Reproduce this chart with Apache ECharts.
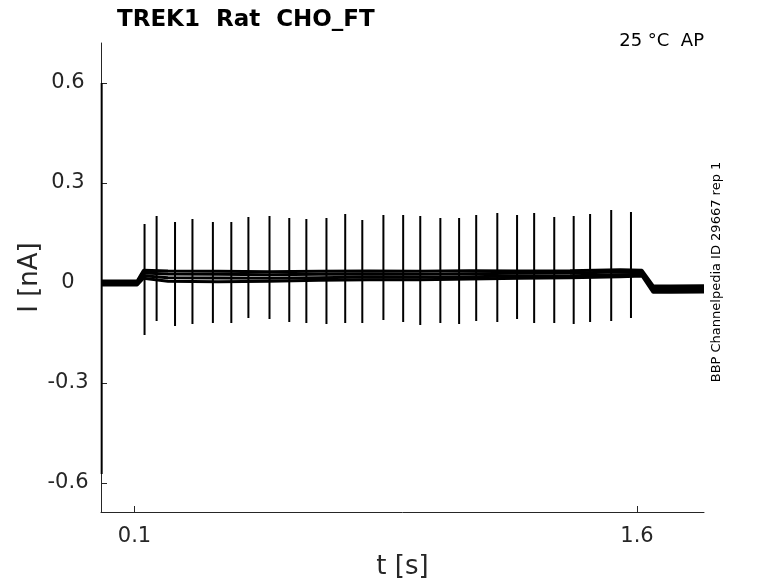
<!DOCTYPE html>
<html>
<head>
<meta charset="utf-8">
<script src="https://cdn.jsdelivr.net/npm/echarts@6/dist/echarts.min.js"></script>
<style>
html,body{margin:0;padding:0;background:#fff;}
#chartmain{width:778px;height:583px;}
</style>
</head>
<body>
<div id="chartmain"></div>
<script>
// 刺激时间点 (s) 和尖峰幅值 (nA)
var spikeT = [0.130, 0.166, 0.221, 0.273, 0.334, 0.389, 0.440, 0.503, 0.562, 0.613, 0.673, 0.729, 0.780, 0.843,
    0.902, 0.953, 1.013, 1.069, 1.120, 1.183, 1.242, 1.293, 1.353, 1.411, 1.460, 1.523, 1.582];
var spikeTop = [0.177, 0.201, 0.183, 0.192, 0.183, 0.183, 0.198, 0.201, 0.195, 0.192, 0.195, 0.207, 0.189, 0.204,
    0.204, 0.201, 0.195, 0.195, 0.204, 0.210, 0.204, 0.210, 0.198, 0.201, 0.207, 0.219, 0.213];
var spikeBottom = [-0.156, -0.114, -0.129, -0.123, -0.120, -0.120, -0.105, -0.108, -0.117, -0.120, -0.123, -0.120, -0.120, -0.111,
    -0.117, -0.126, -0.120, -0.123, -0.114, -0.117, -0.108, -0.120, -0.120, -0.123, -0.117, -0.114, -0.105];

// 四次扫描的基线
var traceT = [0, 0.108, 0.127, 0.2, 0.35, 0.5, 0.65, 0.8, 0.95, 1.1, 1.25, 1.4, 1.55, 1.615, 1.648, 1.7, 1.8];
var sweep1 = [0.006, 0.006, 0.038, 0.036, 0.035, 0.034, 0.035, 0.036, 0.035, 0.037, 0.036, 0.037, 0.040, 0.038, -0.008, -0.009, -0.008];
var sweep2 = [0.002, 0.002, 0.030, 0.027, 0.026, 0.025, 0.026, 0.027, 0.026, 0.028, 0.029, 0.030, 0.033, 0.032, -0.015, -0.016, -0.015];
var sweep3 = [-0.002, -0.002, 0.022, 0.016, 0.015, 0.014, 0.016, 0.018, 0.017, 0.019, 0.021, 0.022, 0.025, 0.026, -0.021, -0.022, -0.021];
var sweep4 = [-0.006, -0.006, 0.014, 0.005, 0.004, 0.005, 0.008, 0.010, 0.010, 0.012, 0.014, 0.016, 0.019, 0.021, -0.028, -0.028, -0.027];

// 起始电容瞬变
var transientT = [0.002, 0.002];
var transientI = [0.600, -0.573];

var xTicks = [0.1, 1.6];
var yTicks = [-0.6, -0.3, 0, 0.3, 0.6];

var font = 'DejaVu Sans';
var ink = '#262626';

function pairs(t, v) {
    var out = [];
    for (var i = 0; i < t.length; i++) {
        out.push([t[i], v[i]]);
    }
    return out;
}

var spikeData = [];
for (var i = 0; i < spikeT.length; i++) {
    spikeData.push([spikeT[i], spikeTop[i]]);
    spikeData.push([spikeT[i], spikeBottom[i]]);
    spikeData.push([spikeT[i], null]);
}

function trace(name, data, width) {
    return {
        name: name,
        type: 'line',
        data: data,
        showSymbol: false,
        symbol: 'none',
        connectNulls: false,
        animation: false,
        lineStyle: { color: '#000', width: width },
        z: 3
    };
}

var option = {
    animation: false,
    title: {
        text: 'TREK1  Rat  CHO_FT',
        left: 112,
        top: 4,
        textStyle: { fontFamily: font, fontSize: 23, fontWeight: 'bold', color: '#000' }
    },
    grid: { left: 101, right: 74, top: 43, bottom: 71, outerBoundsMode: 'none', containLabel: false },
    xAxis: {
        type: 'value',
        min: 0,
        max: 1.8,
        name: 't [s]',
        nameLocation: 'middle',
        nameGap: 42,
        nameMoveOverlap: false,
        nameTextStyle: { fontFamily: font, fontSize: 26, color: ink },
        axisLine: { onZero: false, lineStyle: { color: ink, width: 1 } },
        axisTick: { inside: true, length: 6, customValues: xTicks, lineStyle: { color: ink } },
        axisLabel: { customValues: xTicks, fontFamily: font, fontSize: 21, color: ink, margin: 14 },
        splitLine: { show: false }
    },
    yAxis: {
        type: 'value',
        min: -0.687,
        max: 0.72,
        name: 'I [nA]',
        nameLocation: 'middle',
        nameGap: 58,
        nameMoveOverlap: false,
        nameTextStyle: { fontFamily: font, fontSize: 26, color: ink },
        axisLine: { show: true, onZero: false, lineStyle: { color: ink, width: 1 } },
        axisTick: { show: true, inside: true, length: 6, customValues: yTicks, lineStyle: { color: ink } },
        axisLabel: { customValues: yTicks, fontFamily: font, fontSize: 21, color: ink, margin: 33, align: 'center' },
        splitLine: { show: false }
    },
    graphic: [
        {
            type: 'text',
            right: 74,
            top: 32,
            style: { text: '25 °C\u00a0\u00a0AP', fontFamily: font, fontSize: 18, fill: '#000' }
        },
        {
            type: 'text',
            x: 717,
            y: 272,
            rotation: Math.PI / 2,
            style: { text: 'BBP Channelpedia ID 29667 rep 1', fontFamily: font, fontSize: 13, fill: '#000',
                align: 'center', verticalAlign: 'middle' }
        }
    ],
    series: [
        trace('sweep1', pairs(traceT, sweep1), 3),
        trace('sweep2', pairs(traceT, sweep2), 3),
        trace('sweep3', pairs(traceT, sweep3), 3),
        trace('sweep4', pairs(traceT, sweep4), 3),
        trace('spikes', spikeData, 2),
        trace('transient', pairs(transientT, transientI), 2)
    ]
};

var myChart = echarts.init(document.getElementById('chartmain'));
myChart.setOption(option);
</script>
</body>
</html>
